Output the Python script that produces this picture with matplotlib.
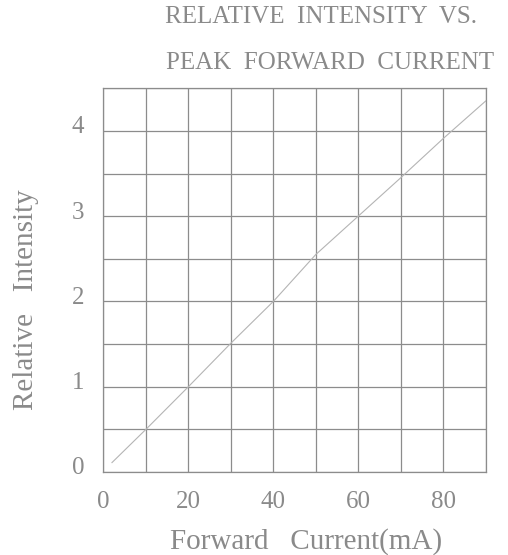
import numpy as np
import matplotlib.pyplot as plt
from matplotlib.ticker import MultipleLocator
import matplotlib.transforms as mtransforms

# courbe
current = [2, 10, 20, 30, 40, 50, 60, 70, 80, 90]
intensity = [0.11, 0.50, 1.00, 1.51, 2.00, 2.55, 3.00, 3.45, 3.91, 4.35]

x_ticks = [0, 20, 40, 60, 80]
y_ticks = [0, 1, 2, 3, 4]

txt = '#8a8a8a'
grid_c = '#8c8c8c'
font = 'Liberation Serif'

fig = plt.figure(figsize=(5.08, 5.55), dpi=100)
ax = fig.add_axes([0.2037, 0.1496, 0.7523, 0.6914])

ax.plot(current, intensity, color='#b4b4b4', linewidth=0.8)

ax.set_xlim(0, 90)
ax.set_ylim(0, 4.5)
ax.set_xticks(x_ticks)
ax.set_yticks(y_ticks)
ax.xaxis.set_minor_locator(MultipleLocator(10))
ax.yaxis.set_minor_locator(MultipleLocator(0.5))
ax.grid(True, which='both', color=grid_c, linewidth=0.9)
ax.tick_params(which='both', length=0)
ax.tick_params(axis='x', pad=14, labelsize=18, labelcolor=txt)
ax.tick_params(axis='y', pad=14, labelsize=18, labelcolor=txt)
for lab in ax.get_xticklabels() + ax.get_yticklabels():
    lab.set_fontfamily(font)
# petits décalages des chiffres de l'axe y
off = mtransforms.ScaledTranslation(0, 6 / 100, fig.dpi_scale_trans)
for lab in ax.get_yticklabels():
    lab.set_transform(lab.get_transform() + off)
for s in ax.spines.values():
    s.set_color(grid_c)
    s.set_linewidth(0.9)

fig.text(306 / 508, 1 - 542 / 555, 'Forward   Current(mA)', fontsize=21, color=txt,
         family=font, ha='center', va='center')
fig.text(26 / 508, 1 - 300 / 555, 'Relative   Intensity', fontsize=21, color=txt,
         family=font, ha='center', va='center', rotation=90)

fig.text(165 / 508, 1 - 17 / 555, 'RELATIVE  INTENSITY  VS.', fontsize=18, color=txt,
         family=font, ha='left', va='center')
fig.text(166 / 508, 1 - 63 / 555, 'PEAK  FORWARD  CURRENT', fontsize=18, color=txt,
         family=font, ha='left', va='center')

plt.savefig('out.png', dpi=100)
